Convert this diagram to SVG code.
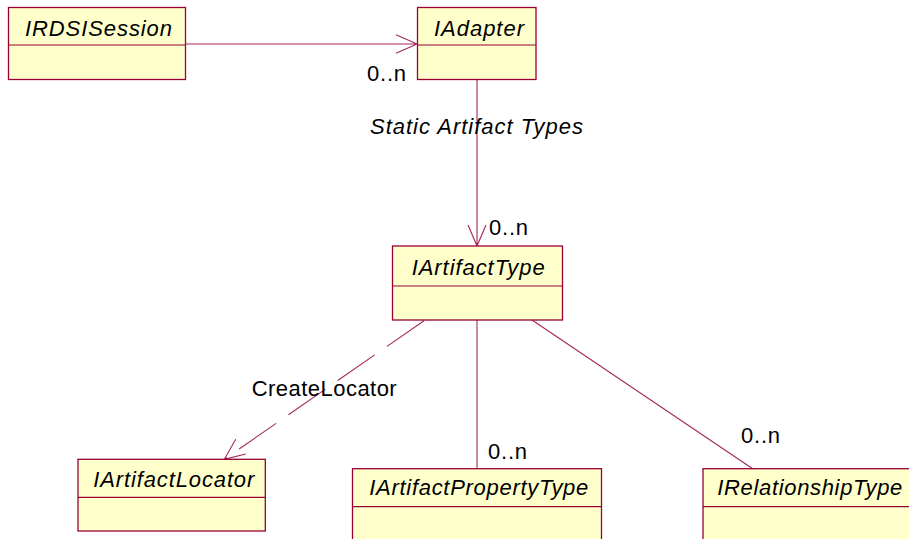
<svg xmlns="http://www.w3.org/2000/svg" width="909" height="539" viewBox="0 0 909 539">
<style>
.box{fill:#FFFFCC;stroke:#990033;stroke-width:1.3}
.div{stroke:#990033;stroke-width:1.2}
.name{font-family:"Liberation Sans",Arial,sans-serif;font-style:italic;font-size:22px;fill:#000}
.lbl{font-family:"Liberation Sans",Arial,sans-serif;font-size:22px;fill:#000}
.ln{fill:none;stroke:#A3285C;stroke-width:1.1}
</style>
<rect width="909" height="539" fill="#fff"/>
<g id="connectors">
<path class="ln" d="M186,44 H417 M396,34.7 L417,44 L396,53.3"/>
<path class="ln" d="M477,80 V246 M468,225 L477,246 L486,225"/>
<path class="ln" d="M424,320.7 L224.3,459.3" stroke-dasharray="45 15"/>
<path class="ln" d="M235.7,439.3 L224.3,459.3 L245.7,454"/>
<path class="ln" d="M477,320 V469"/>
<path class="ln" d="M532,320 L752.7,468.7"/>
<text class="lbl" x="367" y="80.5" textLength="39" lengthAdjust="spacing">0..n</text>
<text class="name" x="370" y="134" textLength="213" lengthAdjust="spacing">Static Artifact Types</text>
<text class="lbl" x="489" y="235" textLength="39" lengthAdjust="spacing">0..n</text>
<text class="lbl" x="251.7" y="396" textLength="145" lengthAdjust="spacing">CreateLocator</text>
<text class="lbl" x="488" y="459" textLength="39" lengthAdjust="spacing">0..n</text>
<text class="lbl" x="741" y="442.5" textLength="39" lengthAdjust="spacing">0..n</text>
</g>
<g id="IRDSISession">
<rect class="box" x="8.5" y="7.5" width="177" height="72"/>
<line class="div" x1="8.5" y1="45" x2="185.5" y2="45"/>
<text class="name" x="25" y="35.7" textLength="147" lengthAdjust="spacing">IRDSISession</text>
</g>
<g id="IAdapter">
<rect class="box" x="417.5" y="7.5" width="118.5" height="72"/>
<line class="div" x1="417.5" y1="45" x2="536" y2="45"/>
<text class="name" x="434" y="35.7" textLength="90" lengthAdjust="spacing">IAdapter</text>
</g>
<g id="IArtifactType">
<rect class="box" x="392.5" y="246" width="170" height="74"/>
<line class="div" x1="392.5" y1="286" x2="562.5" y2="286"/>
<text class="name" x="411.7" y="275" textLength="133" lengthAdjust="spacing">IArtifactType</text>
</g>
<g id="IArtifactLocator">
<rect class="box" x="78" y="459.3" width="187.3" height="71.7"/>
<line class="div" x1="78" y1="497.3" x2="265.3" y2="497.3"/>
<text class="name" x="93.3" y="486.7" textLength="161" lengthAdjust="spacing">IArtifactLocator</text>
</g>
<g id="IArtifactPropertyType">
<rect class="box" x="352.5" y="468.7" width="249" height="80"/>
<line class="div" x1="352.5" y1="506.7" x2="601.5" y2="506.7"/>
<text class="name" x="369.3" y="495" textLength="219" lengthAdjust="spacing">IArtifactPropertyType</text>
</g>
<g id="IRelationshipType">
<rect class="box" x="703" y="468.7" width="215" height="80"/>
<line class="div" x1="703" y1="506.7" x2="918" y2="506.7"/>
<text class="name" x="717.3" y="495" textLength="185" lengthAdjust="spacing">IRelationshipType</text>
</g>
</svg>
